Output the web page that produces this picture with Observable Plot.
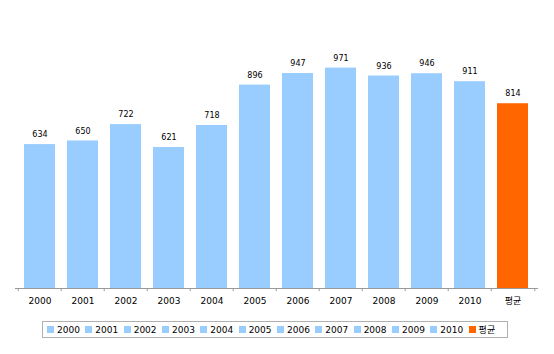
<!DOCTYPE html>
<html>
<head>
<meta charset="utf-8">
<script src="https://cdn.jsdelivr.net/npm/d3@7"></script>
<script src="https://cdn.jsdelivr.net/npm/@observablehq/plot@0.6"></script>
<style>
  html, body { margin: 0; padding: 0; background: #fff; }
  body { width: 554px; height: 354px; overflow: hidden; font-family: "DejaVu Sans", "Noto Sans CJK KR", sans-serif; }
  #legend {
    position: absolute; left: 42px; top: 321px; width: 466px; height: 17px;
    border: 1px solid #b0b0b0; display: flex; align-items: center;
    font-size: 9px; color: #000; box-sizing: border-box; padding-left: 4px;
  }
  #legend .item { display: flex; align-items: center; width: 38.5px; white-space: nowrap; }
  #legend .sw { width: 7px; height: 7px; margin-right: 3px; flex: none; }
</style>
</head>
<body>
<div id="chart"></div>
<div id="legend"></div>
<script>
const categories = ["2000","2001","2002","2003","2004","2005","2006","2007","2008","2009","2010","평균"];
const values = [634, 650, 722, 621, 718, 896, 947, 971, 936, 946, 911, 814];
const colors = ["#99CCFF","#99CCFF","#99CCFF","#99CCFF","#99CCFF","#99CCFF","#99CCFF","#99CCFF","#99CCFF","#99CCFF","#99CCFF","#FF6600"];

const data = categories.map((c, i) => ({cat: c, value: values[i], color: colors[i]}));

const W = 554, H = 312, ML = 15, MR = 16, MT = 61, MB = 24;
const step = (W - ML - MR) / categories.length;

const chart = Plot.plot({
  width: W, height: H,
  marginLeft: ML, marginRight: MR, marginTop: MT, marginBottom: MB,
  style: {fontFamily: '"DejaVu Sans", "Noto Sans CJK KR", sans-serif', fontSize: "9px", color: "#000", background: "#fff"},
  x: {domain: categories, paddingInner: 0.27, paddingOuter: 0.135, label: null},
  y: {domain: [0, 1000], axis: null},
  marks: [
    Plot.barY(data, {x: "cat", y: "value", fill: "color"}),
    Plot.ruleY([0], {stroke: "#9a9a9a", strokeWidth: 1}),
    Plot.ruleX(categories, {x: d => d, y1: 0, y2: -14, dx: -step / 2, stroke: "#9a9a9a"}),
    Plot.ruleX([categories[categories.length - 1]], {x: d => d, y1: 0, y2: -14, dx: step / 2, stroke: "#9a9a9a"}),
    Plot.text(data, {x: "cat", y: "value", text: d => String(d.value), dy: -10, fontSize: 8, fill: "#000", lineAnchor: "middle"}),
    Plot.axisX({tickSize: 0, tickPadding: 9, fontSize: 9, label: null})
  ]
});
document.getElementById("chart").appendChild(chart);

const legend = document.getElementById("legend");
data.forEach(d => {
  const item = document.createElement("div");
  item.className = "item";
  const sw = document.createElement("span");
  sw.className = "sw";
  sw.style.background = d.color;
  const lab = document.createElement("span");
  lab.textContent = d.cat;
  item.appendChild(sw);
  item.appendChild(lab);
  legend.appendChild(item);
});
</script>
</body>
</html>
